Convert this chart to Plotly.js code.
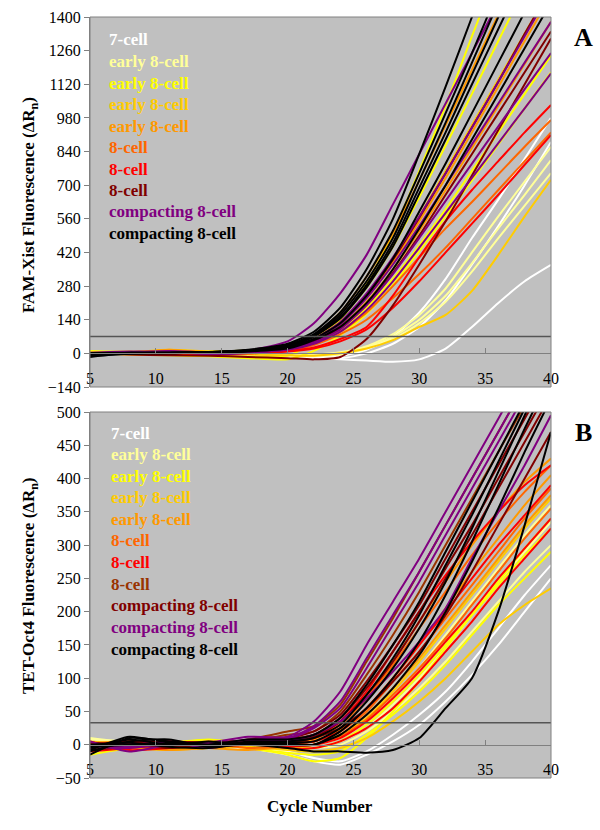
<!DOCTYPE html>
<html>
<head>
<meta charset="utf-8">
<script src="https://cdn.plot.ly/plotly-3.0.1.min.js"></script>
<style>
  html, body { margin: 0; padding: 0; background: #fff; }
  #chart { width: 600px; height: 830px; }
</style>
</head>
<body>
<div id="chart"></div>
<script>
// cycles at which each curve is sampled
const CYCLES = [5, 8, 11, 14, 17, 20, 22, 24, 26, 28, 30, 32, 34, 36, 38, 40];

// ---- panel A: FAM-Xist ----
const A_THRESHOLD = 70;
const A_LABELS = ['7-cell', 'early 8-cell', 'early 8-cell', 'early 8-cell', 'early 8-cell',
                  '8-cell', '8-cell', '8-cell', 'compacting 8-cell', 'compacting 8-cell'];
const A_COLORS = ['#ffffff', '#ffff99', '#ffff00', '#ffcc00', '#ff9900',
                  '#ff6600', '#ff0000', '#800000', '#800080', '#000000'];

const A_7CELL = [
  [0, -3, 2, -5, -8, -10, -15, -10, 15, 70, 170, 310, 480, 640, 810, 980],
  [3, 0, -4, -2, -10, -15, -20, -20, 0, 40, 110, 220, 370, 530, 700, 880],
  [-5, -2, 0, -4, -8, -15, -20, -25, -30, -35, -25, 20, 110, 210, 300, 368]
];
const A_EARLY1 = [
  [2, 5, 0, -3, -5, -8, -5, 5, 30, 80, 160, 270, 420, 570, 715, 860],
  [-2, 0, 3, 0, -6, -10, -10, 0, 25, 70, 140, 240, 375, 520, 660, 804],
  [0, 3, -2, -5, -8, -12, -12, -5, 20, 60, 125, 215, 340, 480, 615, 750]
];
const A_EARLY2 = [
  [10, 5, 0, -5, 0, 25, 55, 140, 290, 500, 760, 1030, 1320, 1600, 1880, 2160],
  [5, 0, -5, -10, -15, -10, 40, 95, 190, 310, 450, 600, 760, 920, 1080, 1240],
  [0, -5, -8, -12, -20, -25, 10, 75, 165, 285, 425, 570, 720, 870, 1020, 1170],
  [0, 3, 5, 8, 12, 25, 65, 145, 275, 445, 650, 865, 1080, 1300, 1520, 1740]
];
const A_EARLY3 = [
  [5, 8, 3, 0, -5, -8, -10, 0, 20, 55, 110, 160, 260, 410, 570, 722],
  [3, 5, 15, 8, 5, 20, 55, 125, 240, 390, 570, 760, 950, 1140, 1330, 1520]
];
const A_EARLY4 = [
  [0, 5, 12, 5, 8, 30, 75, 170, 320, 500, 720, 950, 1180, 1410, 1640, 1870],
  [-5, 0, 15, 3, 5, 22, 55, 120, 235, 380, 550, 730, 920, 1110, 1300, 1490],
  [0, 2, 10, -5, -3, 18, 50, 110, 215, 350, 510, 680, 855, 1030, 1205, 1380]
];
const A_8CELL1 = [
  [-3, 0, -2, 3, 5, 15, 40, 90, 170, 280, 400, 520, 630, 745, 860, 971],
  [0, -4, -5, 0, 2, 12, 35, 80, 140, 230, 330, 440, 560, 680, 800, 920]
];
const A_8CELL2 = [
  [0, 3, -3, 5, 2, 10, 25, 60, 110, 240, 400, 550, 680, 800, 920, 1034],
  [-5, -2, 0, -3, 0, 8, 20, 50, 100, 190, 300, 420, 540, 660, 785, 909]
];
const A_8CELL3 = [
  [0, 2, 5, 3, 8, 22, 60, 125, 240, 390, 565, 750, 940, 1130, 1330, 1520],
  [-2, 0, 3, 5, 6, 18, 50, 105, 205, 335, 490, 660, 830, 1000, 1170, 1340],
  [0, -5, -8, -10, -15, -20, -25, -15, 60, 200, 370, 550, 740, 930, 1120, 1310]
];
const A_COMP1 = [
  [-5, 0, 8, 5, 12, 50, 125, 250, 410, 620, 830, 1040, 1250, 1460, 1670, 1880],
  [0, 5, 10, 3, 8, 30, 60, 130, 250, 400, 570, 750, 940, 1130, 1320, 1510],
  [3, 8, 5, 0, 5, 22, 55, 120, 230, 370, 530, 700, 870, 1040, 1210, 1380],
  [0, 3, 6, -3, 2, 18, 45, 100, 200, 330, 480, 635, 790, 945, 1100, 1250],
  [-3, 2, 4, 0, 3, 15, 40, 90, 180, 300, 440, 585, 730, 875, 1020, 1165]
];
const A_COMP2 = [
  [-15, 0, 2, 5, 15, 40, 90, 190, 350, 560, 830, 1110, 1400, 1690, 1980, 2270],
  [-5, 2, 0, 6, 12, 35, 80, 170, 320, 510, 750, 1000, 1250, 1510, 1770, 2030],
  [0, 0, 3, 4, 14, 32, 75, 160, 300, 480, 720, 960, 1210, 1460, 1710, 1960],
  [-10, -2, 2, 3, 10, 30, 72, 150, 285, 460, 690, 920, 1160, 1400, 1640, 1880],
  [-5, 3, 4, 6, 12, 28, 70, 145, 275, 445, 665, 890, 1120, 1350, 1580, 1810],
  [0, 2, 0, 5, 10, 25, 60, 125, 240, 395, 590, 790, 1000, 1210, 1420, 1630],
  [2, 3, 2, 4, 8, 20, 55, 110, 210, 350, 520, 700, 890, 1080, 1270, 1460]
];

// ---- panel B: TET-Oct4 ----
const B_THRESHOLD = 33;
const B_LABELS = ['7-cell', 'early 8-cell', 'early 8-cell', 'early 8-cell', 'early 8-cell',
                  '8-cell', '8-cell', '8-cell', 'compacting 8-cell', 'compacting 8-cell', 'compacting 8-cell'];
const B_COLORS = ['#ffffff', '#ffff99', '#ffff00', '#ffcc00', '#ff9900',
                  '#ff6600', '#ff0000', '#993300', '#800000', '#800080', '#000000'];

const B_7CELL = [
  [-10, -5, 0, -3, -5, -10, -20, -25, -10, 15, 45, 80, 125, 175, 225, 270],
  [5, 0, -3, 2, -5, -15, -25, -30, -15, 5, 30, 65, 105, 150, 200, 250]
];
const B_EARLY1 = [
  [8, 5, 2, 0, -3, -5, 0, 10, 35, 70, 115, 165, 215, 265, 315, 360],
  [10, 3, -2, 0, -5, -8, -5, 5, 25, 60, 100, 145, 195, 245, 290, 335],
  [5, 2, 0, 3, -3, -5, -5, 0, 20, 50, 85, 125, 170, 215, 260, 300]
];
const B_EARLY2 = [
  [-15, -5, 0, 5, -5, -15, -25, -20, 10, 50, 95, 145, 195, 245, 295, 340],
  [-5, 0, 3, 8, 2, -3, -5, 5, 30, 65, 105, 150, 195, 240, 285, 325],
  [0, 3, -2, 0, -5, -12, -15, -10, 15, 45, 80, 120, 165, 210, 250, 290]
];
const B_EARLY3 = [
  [5, 0, -5, -3, 0, -2, 0, 15, 40, 80, 125, 175, 225, 275, 325, 370],
  [0, -5, -8, -5, -3, -8, -10, -5, 10, 35, 65, 100, 140, 180, 210, 235]
];
const B_EARLY4 = [
  [-5, 2, 5, 0, 3, 3, 8, 30, 70, 125, 185, 245, 300, 350, 395, 430],
  [0, -3, -8, -5, 0, 2, 5, 22, 55, 100, 150, 205, 260, 310, 360, 405],
  [3, 5, 0, -5, -8, -3, 0, 15, 45, 85, 130, 180, 230, 280, 330, 375]
];
const B_8CELL1 = [
  [-8, -3, 0, 5, 2, 4, 10, 30, 70, 120, 175, 230, 285, 335, 380, 420],
  [0, 5, 2, -3, 0, 2, 5, 20, 50, 95, 140, 190, 240, 290, 340, 385],
  [-3, 0, 5, 2, -5, -2, 0, 12, 38, 75, 115, 160, 210, 260, 310, 355]
];
const B_8CELL2 = [
  [-10, -5, 0, 3, 5, 6, 10, 35, 80, 140, 200, 255, 305, 350, 390, 420],
  [5, -8, -5, 0, 2, 3, 5, 20, 55, 100, 150, 200, 250, 300, 345, 390],
  [0, 3, 5, -2, 0, -2, 0, 10, 35, 70, 110, 155, 200, 250, 295, 340],
  [-5, 0, -3, 3, 5, -5, -5, 5, 25, 55, 95, 140, 185, 235, 280, 325]
];
const B_8CELL3 = [
  [0, 5, 3, 0, 8, 20, 28, 60, 125, 190, 260, 330, 400, 470, 540, 610],
  [-3, 0, 5, -2, 5, 15, 20, 50, 105, 165, 230, 300, 370, 440, 510, 580]
];
const B_COMP1 = [
  [-5, 2, 5, 3, 6, 10, 20, 45, 95, 150, 210, 280, 350, 420, 490, 560],
  [0, 5, 3, -2, 4, 8, 15, 40, 85, 140, 200, 265, 330, 400, 470, 540],
  [3, 0, -5, 0, 3, 5, 12, 35, 75, 125, 185, 250, 315, 385, 455, 525],
  [-8, -3, 0, 2, 0, 3, 10, 25, 55, 95, 140, 195, 260, 330, 400, 470]
];
const B_COMP2 = [
  [5, -10, 0, 3, 12, 12, 35, 80, 150, 215, 280, 350, 420, 490, 560, 630],
  [-3, -5, 2, 0, 8, 10, 28, 65, 130, 195, 260, 330, 400, 470, 540, 610],
  [0, -3, 5, -5, 5, 8, 25, 55, 115, 180, 245, 315, 385, 455, 525, 595],
  [-5, 0, 3, -3, 2, 5, 15, 35, 70, 110, 155, 205, 280, 350, 420, 495]
];
const B_COMP3 = [
  [-15, 10, 5, 0, 8, 8, 15, 40, 90, 150, 215, 290, 365, 440, 515, 590],
  [-10, 5, 8, -3, 5, 5, 10, 30, 75, 130, 195, 270, 345, 425, 505, 585],
  [-8, 12, 3, 0, 3, 3, 5, 25, 65, 115, 175, 245, 325, 410, 495, 580],
  [-5, 8, 0, 5, 0, 2, 0, 20, 55, 100, 155, 225, 305, 390, 475, 555],
  [0, 3, -3, -5, 2, 0, 0, 15, 45, 85, 135, 200, 275, 355, 440, 520],
  [-3, 0, 2, -2, 0, -5, -10, -10, -12, -8, 10, 55, 100, 200, 330, 470]
];

const A_GROUPS = [A_7CELL, A_EARLY1, A_EARLY2, A_EARLY3, A_EARLY4, A_8CELL1, A_8CELL2, A_8CELL3, A_COMP1, A_COMP2];
const B_GROUPS = [B_7CELL, B_EARLY1, B_EARLY2, B_EARLY3, B_EARLY4, B_8CELL1, B_8CELL2, B_8CELL3, B_COMP1, B_COMP2, B_COMP3];

const X_RANGE = [5, 40];
const A_RANGE = [-140, 1400];
const B_RANGE = [-50, 500];

// ---- layout helpers (pixel -> paper) ----
const W = 600, H = 830;
const M = {l: 90, r: 49, t: 17, b: 52};
const plotW = W - M.l - M.r;
const plotH = H - M.t - M.b;
const px = x => (x - M.l) / plotW;
const py = y => (H - M.b - y) / plotH;

const A_DOMAIN = [py(387), 1];
const B_DOMAIN = [0, py(412)];
const zeroPos = (dom, r) => dom[0] + (0 - r[0]) / (r[1] - r[0]) * (dom[1] - dom[0]);

const FONT = '"Liberation Serif", "Times New Roman", Times, serif';
const GREY = '#808080';

function panelTraces(groups, colors, thr, xa, ya) {
  const traces = [];
  groups.forEach((curves, i) => {
    curves.forEach(vals => {
      traces.push({
        x: CYCLES, y: vals, xaxis: xa, yaxis: ya,
        type: 'scatter', mode: 'lines',
        line: {color: colors[i], width: 2, shape: 'spline', smoothing: 0.6},
        hoverinfo: 'skip', showlegend: false
      });
    });
  });
  traces.push({
    x: X_RANGE, y: [thr, thr], xaxis: xa, yaxis: ya,
    type: 'scatter', mode: 'lines',
    line: {color: '#555555', width: 1.5},
    hoverinfo: 'skip', showlegend: false
  });
  return traces;
}

function legendNotes(labels, colors, x0, y0, step) {
  return labels.map((txt, i) => ({
    text: '<b>' + txt + '</b>',
    xref: 'paper', yref: 'paper',
    x: px(x0), y: py(y0 + i * step),
    xanchor: 'left', yanchor: 'middle',
    showarrow: false,
    font: {family: FONT, size: 17, color: colors[i]}
  }));
}

const xaxisBase = {
  range: X_RANGE, domain: [0, 1], anchor: 'free',
  tick0: 5, dtick: 5,
  showline: true, linecolor: GREY, linewidth: 1,
  ticks: 'inside', ticklen: 5, tickcolor: GREY,
  showgrid: false, zeroline: false,
  ticklabelstandoff: 10,
  tickfont: {family: FONT, size: 16, color: '#000'}
};
const yaxisBase = {
  showline: true, linecolor: GREY, linewidth: 1,
  ticks: 'outside', ticklen: 5, tickcolor: GREY,
  showgrid: false, zeroline: false,
  tickfont: {family: FONT, size: 16, color: '#000'}
};

const data = panelTraces(A_GROUPS, A_COLORS, A_THRESHOLD, 'x', 'y')
  .concat(panelTraces(B_GROUPS, B_COLORS, B_THRESHOLD, 'x2', 'y2'));

const annotations = []
  .concat(legendNotes(A_LABELS, A_COLORS, 107, 40, 21.5))
  .concat(legendNotes(B_LABELS, B_COLORS, 109, 433, 21.6))
  .concat([
    {text: '<b>FAM-Xist Fluorescence (ΔR<sub>n</sub>)</b>', xref: 'paper', yref: 'paper',
     x: px(30), y: py(205), textangle: -90, showarrow: false,
     xanchor: 'center', yanchor: 'middle', font: {family: FONT, size: 17, color: '#000'}},
    {text: '<b>TET-Oct4 Fluorescence (ΔR<sub>n</sub>)</b>', xref: 'paper', yref: 'paper',
     x: px(30), y: py(586), textangle: -90, showarrow: false,
     xanchor: 'center', yanchor: 'middle', font: {family: FONT, size: 17, color: '#000'}},
    {text: '<b>Cycle Number</b>', xref: 'paper', yref: 'paper',
     x: px(320), y: py(806), showarrow: false,
     xanchor: 'center', yanchor: 'middle', font: {family: FONT, size: 17, color: '#000'}},
    {text: '<b>A</b>', xref: 'paper', yref: 'paper', x: px(583), y: py(37), showarrow: false,
     xanchor: 'center', yanchor: 'middle', font: {family: FONT, size: 26, color: '#000'}},
    {text: '<b>B</b>', xref: 'paper', yref: 'paper', x: px(583), y: py(432), showarrow: false,
     xanchor: 'center', yanchor: 'middle', font: {family: FONT, size: 26, color: '#000'}}
  ]);

const frame = dom => ({
  type: 'rect', xref: 'paper', yref: 'paper', x0: 0, x1: 1, y0: dom[0], y1: dom[1],
  line: {color: GREY, width: 1}, fillcolor: 'rgba(0,0,0,0)', layer: 'above'
});

const layout = {
  width: W, height: H, margin: M,
  paper_bgcolor: '#ffffff', plot_bgcolor: '#c0c0c0',
  font: {family: FONT, size: 16, color: '#000'},
  showlegend: false,
  xaxis: Object.assign({}, xaxisBase, {position: zeroPos(A_DOMAIN, A_RANGE)}),
  yaxis: Object.assign({}, yaxisBase, {domain: A_DOMAIN, range: A_RANGE, tick0: -140, dtick: 140, anchor: 'x'}),
  xaxis2: Object.assign({}, xaxisBase, {position: zeroPos(B_DOMAIN, B_RANGE)}),
  yaxis2: Object.assign({}, yaxisBase, {domain: B_DOMAIN, range: B_RANGE, tick0: -50, dtick: 50, anchor: 'x2'}),
  shapes: [frame(A_DOMAIN), frame(B_DOMAIN)],
  annotations: annotations
};

Plotly.newPlot('chart', data, layout, {staticPlot: true});
</script>
</body>
</html>
